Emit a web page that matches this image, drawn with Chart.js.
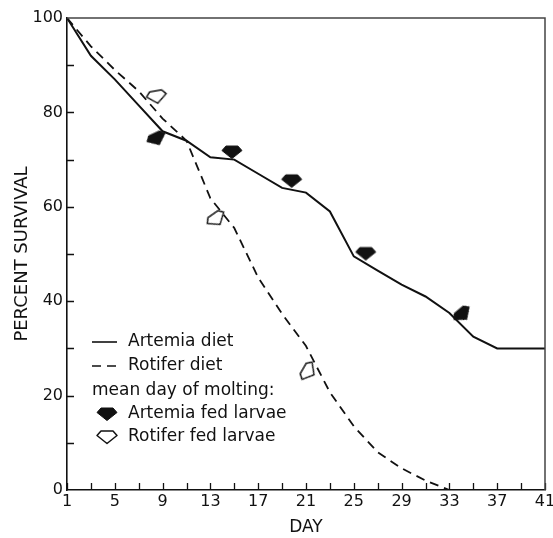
<!DOCTYPE html>
<html>
<head>
<meta charset="utf-8">
<script src="https://cdn.jsdelivr.net/npm/chart.js@4.4.1/dist/chart.umd.min.js"></script>
<style>
  html, body { margin: 0; padding: 0; background: #fff; }
  #wrap { width: 553px; height: 538px; }
</style>
</head>
<body>
<div id="wrap"><canvas id="chart" width="553" height="538"></canvas></div>
<script>
/* global Chart */

// survival curves, read every 2 days
const artemiaDays = [1, 3, 5, 7, 9, 11, 13, 15, 17, 19, 21, 23, 25, 27, 29, 31, 33, 35, 37, 39, 41];
const artemiaSurvival = [100, 92, 87, 81.5, 76, 74, 70.5, 70, 67, 64, 63, 59, 49.5, 46.5, 43.5, 41, 37.5, 32.5, 30, 30, 30];

const rotiferDays = [1, 3, 5, 7, 9, 11, 13, 15, 17, 19, 21, 23, 25, 27, 29, 31, 33];
const rotiferSurvival = [100, 94, 89, 84.5, 78.7, 74, 61.8, 55.5, 45, 37.3, 30.5, 20.7, 13.5, 8, 4.6, 2, 0];

// mean day of molting markers
const artemiaMoltDays = [8.5, 14.8, 19.8, 26.0, 34.1];
const artemiaMoltSurvival = [74.4, 71.6, 65.5, 50.1, 37.2];
const rotiferMoltDays = [8.5, 13.5, 21.2];
const rotiferMoltSurvival = [83.3, 57.4, 25.1];

const xTickDays = [1, 3, 5, 7, 9, 11, 13, 15, 17, 19, 21, 23, 25, 27, 29, 31, 33, 35, 37, 39, 41];
const xLabelDays = [1, 5, 9, 13, 17, 21, 25, 29, 33, 37, 41];
const yLabelValues = [0, 20, 40, 60, 80, 100];

// marker tilt (degrees), purely cosmetic
const artemiaTilt = [-25, 0, 0, 0, -40];
const rotiferTilt = [-10, -35, -60];

const INK = "#111";
const FONT = "'DejaVu Sans', sans-serif";

function toPoints(xs, ys) {
  return xs.map((x, i) => ({ x, y: ys[i] }));
}

function makeMarker(filled) {
  const c = document.createElement("canvas");
  c.width = 26;
  c.height = 20;
  const g = c.getContext("2d");
  g.translate(13, 10);
  g.beginPath();
  g.moveTo(-6, -6);
  g.lineTo(6, -6);
  g.lineTo(10, -1.5);
  g.lineTo(0, 6.5);
  g.lineTo(-10, -1.5);
  g.closePath();
  g.lineJoin = "round";
  if (filled) {
    g.fillStyle = INK;
    g.fill();
    g.lineWidth = 1;
    g.strokeStyle = INK;
    g.stroke();
  } else {
    g.fillStyle = "#fff";
    g.fill();
    g.lineWidth = 1.5;
    g.strokeStyle = INK;
    g.stroke();
  }
  return c;
}

const filledMarker = makeMarker(true);
const openMarker = makeMarker(false);

// inward ticks + top/right frame
const frameTicks = {
  id: "frameTicks",
  afterDraw(chart) {
    const { ctx, chartArea: a } = chart;
    const xs = chart.scales.x;
    const ys = chart.scales.y;
    ctx.save();
    ctx.strokeStyle = INK;
    ctx.lineWidth = 1.3;
    ctx.beginPath();
    xTickDays.forEach((d) => {
      const px = Math.round(xs.getPixelForValue(d)) + 0.5;
      ctx.moveTo(px, a.bottom);
      ctx.lineTo(px, a.bottom - 7);
    });
    for (let v = 10; v < 100; v += 10) {
      const py = Math.round(ys.getPixelForValue(v)) + 0.5;
      ctx.moveTo(a.left, py);
      ctx.lineTo(a.left + 7, py);
    }
    ctx.stroke();

    ctx.strokeStyle = "#444";
    ctx.lineWidth = 1.5;
    ctx.beginPath();
    ctx.moveTo(a.left, a.top);
    ctx.lineTo(a.right, a.top);
    ctx.lineTo(a.right, a.bottom);
    ctx.stroke();
    ctx.restore();
  }
};

// legend drawn inside the plot, lower left
const insideLegend = {
  id: "insideLegend",
  afterDraw(chart) {
    const { ctx, chartArea: a } = chart;
    const x0 = a.left + 25;
    const xt = a.left + 61;
    const rows = [a.bottom - 148, a.bottom - 124, a.bottom - 99, a.bottom - 76, a.bottom - 53];
    ctx.save();
    ctx.font = "17px " + FONT;
    ctx.fillStyle = INK;
    ctx.textBaseline = "middle";
    ctx.strokeStyle = INK;
    ctx.lineWidth = 1.6;

    ctx.beginPath();
    ctx.moveTo(x0, rows[0]);
    ctx.lineTo(x0 + 25, rows[0]);
    ctx.stroke();
    ctx.fillText("Artemia diet", xt, rows[0]);

    ctx.setLineDash([9, 6]);
    ctx.beginPath();
    ctx.moveTo(x0, rows[1]);
    ctx.lineTo(x0 + 25, rows[1]);
    ctx.stroke();
    ctx.setLineDash([]);
    ctx.fillText("Rotifer diet", xt, rows[1]);

    ctx.fillText("mean day of molting:", x0, rows[2]);

    ctx.drawImage(filledMarker, x0 + 15 - 13, rows[3] - 10);
    ctx.fillText("Artemia fed larvae", xt, rows[3]);
    ctx.drawImage(openMarker, x0 + 15 - 13, rows[4] - 10);
    ctx.fillText("Rotifer fed larvae", xt, rows[4]);
    ctx.restore();
  }
};

new Chart(document.getElementById("chart").getContext("2d"), {
  type: "line",
  data: {
    datasets: [
      {
        label: "Artemia diet",
        data: toPoints(artemiaDays, artemiaSurvival),
        borderColor: INK,
        borderWidth: 2,
        pointRadius: 0,
        tension: 0,
        order: 2
      },
      {
        label: "Rotifer diet",
        data: toPoints(rotiferDays, rotiferSurvival),
        borderColor: INK,
        borderWidth: 1.8,
        borderDash: [9, 6],
        pointRadius: 0,
        tension: 0,
        order: 2
      },
      {
        label: "Artemia fed larvae",
        data: toPoints(artemiaMoltDays, artemiaMoltSurvival),
        showLine: false,
        pointStyle: filledMarker,
        rotation: (ctx) => artemiaTilt[ctx.dataIndex] || 0,
        order: 1
      },
      {
        label: "Rotifer fed larvae",
        data: toPoints(rotiferMoltDays, rotiferMoltSurvival),
        showLine: false,
        pointStyle: openMarker,
        rotation: (ctx) => rotiferTilt[ctx.dataIndex] || 0,
        order: 1
      }
    ]
  },
  options: {
    responsive: false,
    animation: false,
    layout: { padding: { top: 18, right: 8, left: 0, bottom: 0 } },
    plugins: {
      legend: { display: false },
      tooltip: { enabled: false }
    },
    scales: {
      x: {
        type: "linear",
        min: 1,
        max: 41,
        afterBuildTicks: (scale) => {
          scale.ticks = xTickDays.map((v) => ({ value: v }));
        },
        afterFit: (scale) => {
          scale.height = 48;
          scale.paddingRight = 0;
          scale.paddingLeft = 0;
        },
        grid: { display: false, drawTicks: false },
        border: { display: true, color: INK, width: 1.6 },
        ticks: {
          autoSkip: false,
          maxRotation: 0,
          padding: 2,
          color: INK,
          font: { family: FONT, size: 16 },
          callback: (v) => (xLabelDays.includes(v) ? String(v) : "")
        },
        title: {
          display: true,
          text: "DAY",
          color: INK,
          font: { family: FONT, size: 17 },
          padding: { top: 0, bottom: 0 }
        }
      },
      y: {
        type: "linear",
        min: 0,
        max: 100,
        afterBuildTicks: (scale) => {
          scale.ticks = yLabelValues.map((v) => ({ value: v }));
        },
        afterFit: (scale) => {
          scale.width = 67;
        },
        grid: { display: false, drawTicks: false },
        border: { display: true, color: INK, width: 1.6 },
        ticks: {
          autoSkip: false,
          padding: 4,
          color: INK,
          font: { family: FONT, size: 16 }
        },
        title: {
          display: true,
          text: "PERCENT SURVIVAL",
          color: INK,
          font: { family: FONT, size: 18 },
          padding: { top: 12, bottom: 0 }
        }
      }
    }
  },
  plugins: [frameTicks, insideLegend]
});
</script>
</body>
</html>
